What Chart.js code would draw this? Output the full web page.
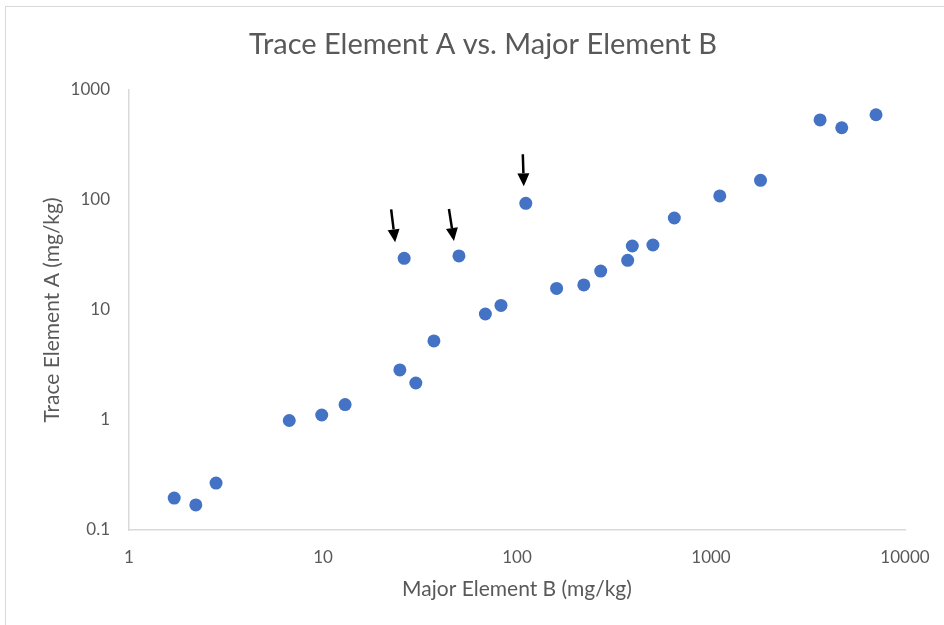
<!DOCTYPE html>
<html>
<head>
<meta charset="utf-8">
<script src="https://cdn.jsdelivr.net/npm/chart.js@4"></script>
<style>
  html,body{margin:0;padding:0;background:#fff;overflow:hidden;}
  #frame{position:absolute;left:5px;top:6px;width:1000px;height:700px;border:1.5px solid #d9d9d9;}
  #plot{position:absolute;left:0;top:0;}
</style>
</head>
<body>
<div id="frame"></div>
<canvas id="plot" width="944" height="625"></canvas>
<script>
// samples: major element B vs trace element A (mg/kg)
const majorB = [1.71, 2.21, 2.81, 6.7, 9.85, 13.0, 24.9, 30.1, 37.3, 68.7, 82.7, 160, 221, 270, 372, 393, 502, 647, 1110, 1800, 3650, 4720, 7090];
const traceA = [0.195, 0.169, 0.267, 0.99, 1.11, 1.38, 2.85, 2.17, 5.23, 9.2, 11.0, 15.7, 16.9, 22.6, 28.3, 38.2, 39.0, 68.6, 109, 151, 534, 454, 596];
// samples marked with arrows
const flaggedB = [26.2, 50.2, 111];
const flaggedA = [29.5, 31.0, 93.3];

const xTicks = [1, 10, 100, 1000, 10000];
const yTicks = [0.1, 1, 10, 100, 1000];

const chartTitle = 'Trace Element A vs. Major Element B';
const xTitle = 'Major Element B (mg/kg)';
const yTitle = 'Trace Element A (mg/kg)';

const grey = '#595959';
const blue = '#4472C4';

const pts = (xs, ys) => xs.map((x, i) => ({x: x, y: ys[i]}));

// headline centred over the frame
const headline = {
  id: 'headline',
  afterDraw(chart) {
    const ctx = chart.ctx;
    ctx.save();
    ctx.font = '29px Lato';
    ctx.fillStyle = grey;
    ctx.textAlign = 'center';
    ctx.textBaseline = 'middle';
    ctx.fillText(chartTitle, 483, 45);
    ctx.restore();
  }
};

// black arrows above the flagged points (tail/tip offsets in px)
const arrowOffsets = [
  {tail: [-13, -49], tip: [-9, -16]},
  {tail: [-10, -47], tip: [-5, -15]},
  {tail: [-3, -49], tip: [-2, -17]}
];
const arrows = {
  id: 'arrows',
  afterDatasetsDraw(chart) {
    const ctx = chart.ctx;
    const meta = chart.getDatasetMeta(1);
    ctx.save();
    ctx.strokeStyle = '#000';
    ctx.fillStyle = '#000';
    ctx.lineWidth = 2.5;
    meta.data.forEach((p, i) => {
      const o = arrowOffsets[i];
      const x0 = p.x + o.tail[0], y0 = p.y + o.tail[1];
      const x1 = p.x + o.tip[0], y1 = p.y + o.tip[1];
      const ang = Math.atan2(y1 - y0, x1 - x0);
      const len = 13, half = 6;
      const bx = x1 - len * Math.cos(ang), by = y1 - len * Math.sin(ang);
      ctx.beginPath();
      ctx.moveTo(x0, y0);
      ctx.lineTo(bx, by);
      ctx.stroke();
      ctx.beginPath();
      ctx.moveTo(x1, y1);
      ctx.lineTo(bx + half * Math.sin(ang), by - half * Math.cos(ang));
      ctx.lineTo(bx - half * Math.sin(ang), by + half * Math.cos(ang));
      ctx.closePath();
      ctx.fill();
    });
    ctx.restore();
  }
};

const pointStyle = {
  backgroundColor: blue,
  borderColor: blue,
  borderWidth: 0,
  pointRadius: 6.5,
  pointHoverRadius: 6.5
};

new Chart(document.getElementById('plot'), {
  type: 'scatter',
  data: {
    datasets: [
      Object.assign({label: 'samples', data: pts(majorB, traceA)}, pointStyle),
      Object.assign({label: 'flagged', data: pts(flaggedB, flaggedA)}, pointStyle)
    ]
  },
  options: {
    responsive: false,
    animation: false,
    layout: {padding: {left: 36, right: 39, top: 90, bottom: 19}},
    plugins: {legend: {display: false}, title: {display: false}, tooltip: {enabled: false}},
    scales: {
      x: {
        type: 'logarithmic',
        min: 1, max: 10000,
        afterBuildTicks: s => { s.ticks = xTicks.map(v => ({value: v})); },
        // fixed axis band; let the "10000" label hang past the plot edge
        afterFit: s => { s.height = 76; s.paddingRight = 0; },
        grid: {display: false, drawTicks: false},
        border: {display: true, color: '#d9d9d9', width: 1.5},
        ticks: {padding: 17, color: grey, font: {family: 'Lato', size: 17}, autoSkip: false, maxRotation: 0,
          callback: v => String(v)},
        title: {display: true, text: xTitle, color: grey, font: {family: 'Lato', size: 21}}
      },
      y: {
        type: 'logarithmic',
        min: 0.1, max: 1000,
        afterBuildTicks: s => { s.ticks = yTicks.map(v => ({value: v})); },
        afterFit: s => { s.width = 93; },
        grid: {display: false, drawTicks: false},
        border: {display: true, color: '#d9d9d9', width: 1.5},
        ticks: {padding: 19, color: grey, font: {family: 'Lato', size: 17}, autoSkip: false,
          callback: v => String(v)},
        title: {display: true, text: yTitle, color: grey, font: {family: 'Lato', size: 21}}
      }
    }
  },
  plugins: [headline, arrows]
});
</script>
</body>
</html>
